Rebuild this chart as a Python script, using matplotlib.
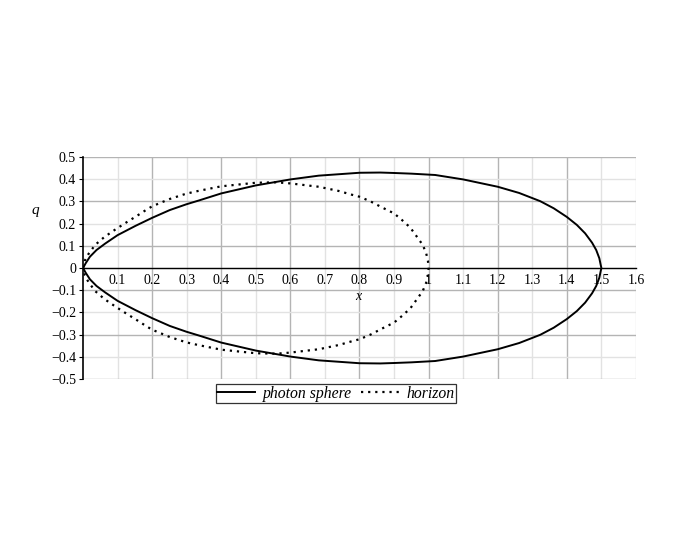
import matplotlib
matplotlib.use('Agg')
import matplotlib.pyplot as plt
import numpy as np

# upper half of each curve (lower half is the mirror)
photon_x = [0.0, 0.0075, 0.02, 0.039, 0.064, 0.1, 0.152, 0.2, 0.251, 0.299,
            0.337, 0.4, 0.5, 0.6, 0.682, 0.8, 0.86, 0.9, 0.95, 1.019, 1.1,
            1.2, 1.262, 1.323, 1.362, 1.4, 1.429, 1.453, 1.473, 1.485, 1.494,
            1.498, 1.5]
photon_q = [0.0, 0.021, 0.051, 0.081, 0.110, 0.148, 0.190, 0.226, 0.261, 0.287,
            0.305, 0.336, 0.372, 0.399, 0.416, 0.429, 0.430, 0.428, 0.425, 0.419,
            0.399, 0.366, 0.338, 0.301, 0.269, 0.230, 0.194, 0.156, 0.114, 0.081,
            0.044, 0.014, 0.0]

horizon_x = [0.0, 0.005, 0.0153, 0.035, 0.062, 0.094, 0.126, 0.155, 0.183, 0.2,
             0.251, 0.299, 0.333, 0.4, 0.5, 0.56, 0.6, 0.682, 0.74, 0.778, 0.8,
             0.832, 0.865, 0.9, 0.923, 0.947, 0.966, 0.983, 0.993, 0.998, 1.0]
horizon_q = [0.0, 0.033, 0.062, 0.104, 0.140, 0.174, 0.206, 0.234, 0.262, 0.278,
             0.311, 0.335, 0.347, 0.368, 0.384, 0.386, 0.381, 0.366, 0.347, 0.330,
             0.321, 0.300, 0.273, 0.246, 0.216, 0.182, 0.141, 0.104, 0.066, 0.033,
             0.0]

x_major = [0.2, 0.4, 0.6, 0.8, 1.0, 1.2, 1.4]
x_minor = [0.1, 0.3, 0.5, 0.7, 0.9, 1.1, 1.3, 1.5, 1.6]
y_major = [-0.5, -0.3, -0.1, 0.1, 0.3, 0.5]
y_minor = [-0.4, -0.2, 0.0, 0.2, 0.4]


def fmt(v):
    s = ('%.1f' % v).rstrip('0').rstrip('.')
    if s in ('-0', '0'):
        return '0'
    return s.replace('-', '\u2212')


plt.rcParams['font.family'] = ['Liberation Serif', 'DejaVu Serif']

fig = plt.figure(figsize=(6.92, 5.54), dpi=100)
ax = fig.add_axes([0.12, 0.3159, 0.799, 0.4007])


def closed(xs, qs):
    xs = np.asarray(xs)
    qs = np.asarray(qs)
    return (np.concatenate([xs, xs[::-1]]),
            np.concatenate([qs, -qs[::-1]]))


px, pq = closed(photon_x, photon_q)
hx, hq = closed(horizon_x, horizon_q)
ax.plot(px, pq, color='black', linewidth=1.4, label='photon sphere',
        zorder=3, solid_joinstyle='round')
ax.plot(hx, hq, color='black', linewidth=1.6, linestyle=(0, (1, 2.2)),
        label='horizon', zorder=3)

ax.set_xlim(0, 1.6)
ax.set_ylim(-0.5, 0.5)

ax.set_xticks(x_major, labels=[fmt(v) for v in x_major])
ax.set_xticks(x_minor, labels=[fmt(v) for v in x_minor], minor=True)
ax.set_yticks(y_major, labels=[fmt(v) for v in y_major])
ax.set_yticks(y_minor, labels=[fmt(v) for v in y_minor], minor=True)

ax.grid(which='major', color='#b4b4b4', linewidth=1.0, zorder=0)
ax.grid(which='minor', color='#e2e2e2', linewidth=1.0, zorder=0)
ax.set_axisbelow(True)

ax.spines['top'].set_visible(False)
ax.spines['right'].set_visible(False)
ax.spines['bottom'].set_position(('data', 0))
ax.spines['bottom'].set_linewidth(1.0)
ax.spines['left'].set_linewidth(1.2)

ax.tick_params(axis='x', which='both', length=0, pad=4, labelsize=10)
ax.tick_params(axis='y', which='both', length=3, width=0.8, pad=2, labelsize=10)

ax.set_xlabel('x', fontstyle='italic', fontsize=10)
ax.xaxis.set_label_coords(0.497, 0.4)
ax.set_ylabel('q', fontstyle='italic', fontsize=11, rotation=0)
ax.yaxis.set_label_coords(-0.087, 0.73)

leg = fig.legend(loc='center', bbox_to_anchor=(0.4856, 0.2897), ncol=2,
                 frameon=True, fancybox=False, edgecolor='black',
                 prop={'style': 'italic', 'size': 11.3},
                 handlelength=2.4, columnspacing=0.6, borderpad=0.1,
                 handletextpad=0.5, borderaxespad=0)
leg.get_frame().set_linewidth(0.9)

fig.savefig('out.png', dpi=100)
